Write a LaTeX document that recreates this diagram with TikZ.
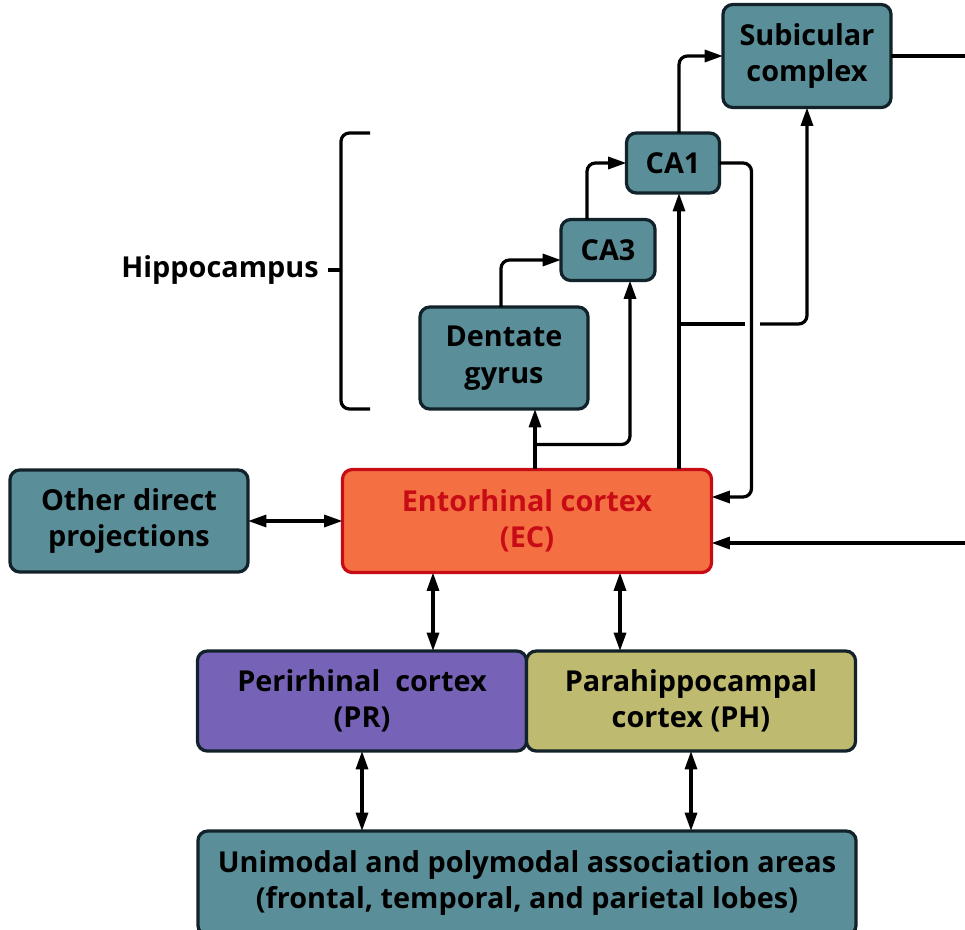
\documentclass[tikz,border=0pt]{standalone}
\usepackage{fontspec}
\setmainfont{Open Sans}
\usetikzlibrary{arrows.meta,calc}

\begin{document}
\begin{tikzpicture}[x=0.025cm, y=-0.025cm,
    box/.style={draw=boxEdge, line width=2.3pt, rounded corners=7pt, fill=teal,
        align=center, inner sep=0pt, outer sep=0pt,
        font=\fontsize{20.5}{26}\selectfont\bfseries},
    link/.style={line width=2.3pt, rounded corners=6pt},
    arr/.style={link, -{Triangle[length=13pt,width=8.5pt]}},
    dbl/.style={link, {Triangle[length=13pt,width=8.5pt]}-{Triangle[length=13pt,width=8.5pt]}}]
    % --- CONFIGURATION ---
    \definecolor{teal}{RGB}{90, 143, 154}      % boites hippocampe
    \definecolor{boxEdge}{RGB}{18, 34, 42}
    \definecolor{ecFill}{RGB}{244, 112, 66}    % cortex entorhinal
    \definecolor{ecRed}{RGB}{200, 12, 22}
    \definecolor{prFill}{RGB}{118, 98, 182}    % perirhinal
    \definecolor{phFill}{RGB}{190, 186, 112}   % parahippocampal

    \useasboundingbox (0,0) rectangle (965,929);

    % --- BOITES ---
    \node[box, minimum width=4.2cm, minimum height=2.575cm] (sub) at (807,56) {Subicular\\complex};
    \node[box, minimum width=2.325cm, minimum height=1.5cm] (ca1) at (673,163) {CA1};
    \node[box, minimum width=2.35cm, minimum height=1.525cm] (ca3) at (608,250) {CA3};
    \node[box, minimum width=4.2cm, minimum height=2.55cm] (dg) at (504,358) {Dentate\\gyrus};
    \node[box, minimum width=9.225cm, minimum height=2.575cm, fill=ecFill, draw=ecRed,
        text=ecRed] (ec) at (527,521) {Entorhinal cortex\\(EC)};
    \node[box, minimum width=5.95cm, minimum height=2.55cm] (other) at (129,521) {Other direct\\projections};
    \node[box, minimum width=8.225cm, minimum height=2.5cm, fill=prFill] (pr) at (362,701) {Perirhinal\ \ cortex\\(PR)};
    \node[box, minimum width=8.225cm, minimum height=2.5cm, fill=phFill] (ph) at (691,701) {Parahippocampal\\cortex (PH)};
    \node[box, minimum width=16.45cm, minimum height=2.6cm] (uni) at (527,883)
        {Unimodal and polymodal association areas\\(frontal, temporal, and parietal lobes)};

    % Accolade de l'hippocampe
    \node[font=\fontsize{20.5}{26}\selectfont\bfseries, inner sep=0pt] (hippo) at (220,270) {Hippocampus};
    \coordinate (brace) at (341,270);
    \draw[link] (370,133) -- (341,133) -- (341,409) -- (370,409);
    \draw[link, rounded corners=0pt] ($(hippo.east)+(9,0)$) -- (brace);

    % --- CIRCUIT TRISYNAPTIQUE ---
    \draw[arr] ($(ec.north)+(8,0)$) -- ($(dg.south)+(31,0)$);
    \draw[arr] ($(ec.north)+(8,-25)$) -| ($(ca3.south)+(22,0)$);
    \draw[arr] ($(dg.north)+(-3,0)$) |- ($(ca3.west)+(0,10)$);
    \draw[arr] ($(ca3.north)+(-21,0)$) |- (ca1.west);
    \draw[arr] ($(ca1.north)+(6,0)$) |- (sub.west);

    % Voie directe EC -> CA1 et EC -> subiculum (avec saut)
    \coordinate (ecTop) at ($(ec.north)+(152,0)$);
    \draw[arr] (ecTop) -- ($(ca1.south)+(6,0)$);
    \coordinate (gapL) at (745,324);
    \coordinate (gapR) at (760,324);
    \draw[link] (ecTop |- gapL) -- (gapL);
    \draw[arr] (gapR) -| (sub.south);

    % Retour CA1 -> EC
    \draw[arr] (ca1.east) -- ++(32,0) |- ($(ec.east)+(0,-24)$);

    % Sortie du subiculum et retour vers EC
    \coordinate (rim) at (965,0);
    \coordinate (back) at ($(ec.east)+(0,22)$);
    \draw[link] (sub.east) -- (sub.east -| rim);
    \draw[arr] (back -| rim) -- (back);

    % --- CONNEXIONS CORTICALES ---
    \draw[dbl] (other.east) -- (ec.west);
    \coordinate (e1) at ($(ec.south)+(-94,0)$);
    \coordinate (e2) at ($(ec.south)+(93,0)$);
    \draw[dbl] (e1) -- (e1 |- pr.north);
    \draw[dbl] (e2) -- (e2 |- ph.north);
    \draw[dbl] (pr.south) -- (pr.south |- uni.north);
    \draw[dbl] (ph.south) -- (ph.south |- uni.north);
\end{tikzpicture}
\end{document}
